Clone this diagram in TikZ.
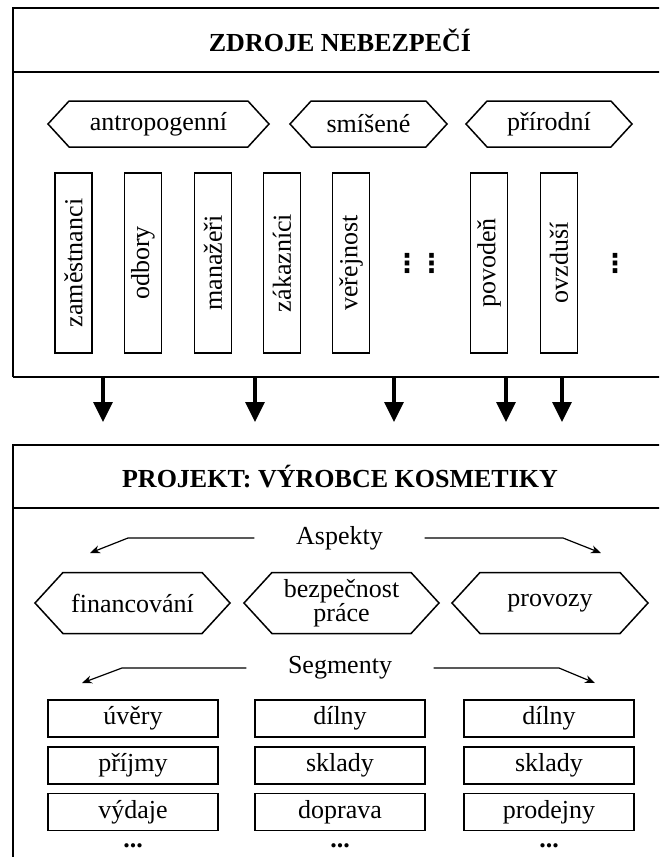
\documentclass[tikz,border=0pt]{standalone}
\usepackage{fontspec}
\setmainfont{Liberation Serif}
\newfontfamily\symfont{DejaVu Sans}
\usetikzlibrary{positioning, arrows.meta, shapes.symbols, calc}

\begin{document}
\begin{tikzpicture}[x=0.5pt, y=-0.5pt, line width=0.75pt,
  txt/.style={font=\fontsize{13}{15}\selectfont},
  headline/.style={font=\fontsize{13}{15}\selectfont\bfseries},
  hexbox/.style={signal, signal to=west and east, signal pointer angle=95, draw, inner sep=0pt, align=center, txt},
  vbox/.style={draw, rotate=90, minimum width=90pt, minimum height=18.5pt, inner sep=0pt, txt},
  segbox/.style={draw, minimum width=85pt, minimum height=18.5pt, inner sep=0pt, txt},
  vdotsnode/.style={inner sep=0pt, font=\fontsize{13}{15}\symfont\bfseries},
  tag/.style={inner xsep=20.5pt, inner ysep=0pt, txt},
  bigarrow/.style={-{Triangle[length=10pt, width=9.5pt]}, line width=1.6pt},
  thinarrow/.style={-{Stealth[length=5pt, width=4pt]}, line width=0.6pt}]
  \clip (0,0) rectangle (659,857);
  % frames
  \draw[line width=1pt] (13,377) -- (13,8) -- (690,8) (13,72) -- (690,72) (13,377) -- (690,377);
  \draw[line width=1pt] (690,445) -- (13,445) -- (13,880) (13,508) -- (690,508);
  \node[headline] (src) at (340,40) {ZDROJE NEBEZPEČÍ};
  \node[headline] (prj) at (340,477) {PROJEKT: VÝROBCE KOSMETIKY};
  % kinds of sources
  \node[hexbox, minimum width=110.5pt, minimum height=23pt] (antro) at (158.5,124) {antropogenní};
  \node[hexbox, minimum width=78.5pt, minimum height=23pt] (mix) at (368.5,124) {smíšené};
  \node[hexbox, minimum width=83pt, minimum height=23pt] (nat) at (549,124) {přírodní};
  \foreach \x/\t [count=\i] in {73.5/zaměstnanci, 143/odbory, 213/manažeři, 282/zákazníci, 351/veřejnost, 489/povodeň, 559/ovzduší}
    \node[vbox] (v\i) at (\x,263) {\t};
  \foreach \x [count=\i] in {407, 431.5, 615}
    \node[vdotsnode] (d\i) at (\x,263) {⋮};
  % arrows
  \foreach \x [count=\i] in {103, 255, 394, 506, 562}{
    \coordinate (s\i) at (\x,377);
    \coordinate (t\i) at (\x,422);
    \draw[bigarrow] (s\i) -- (t\i);
  }
  % aspects
  \node[tag] (asp) at (339.5,538) {Aspekty};
  \draw[thinarrow] (asp.west) -- (128,538) -- (90,553);
  \draw[thinarrow] (asp.east) -- (563,538) -- (601,553);
  \node[hexbox, minimum width=97.5pt, minimum height=30.5pt] (fin) at (132.5,603) {financování};
  \node[hexbox, minimum width=97.5pt, minimum height=30.5pt] (bozp) at (341.5,603) {bezpečnost\\[-3pt]práce};
  \node[hexbox, minimum width=98pt, minimum height=30.5pt] (prov) at (550,603) {provozy};
  % segments
  \node[tag] (seg) at (340,668) {Segmenty};
  \draw[thinarrow] (seg.west) -- (122,668) -- (82,683);
  \draw[thinarrow] (seg.east) -- (559,668) -- (595,683);
  \foreach \x/\a/\b/\c [count=\i] in {133/úvěry/příjmy/výdaje, 340/dílny/sklady/doprava, 549/dílny/sklady/prodejny}{
    \node[segbox] (a\i) at (\x,718.5) {\a};
    \node[segbox] (b\i) at (\x,765.5) {\b};
    \node[segbox] (c\i) at (\x,812) {\c};
    \node[txt, inner sep=0pt] (e\i) at (\x,846) {\textbf{...}};
  }
\end{tikzpicture}
\end{document}
